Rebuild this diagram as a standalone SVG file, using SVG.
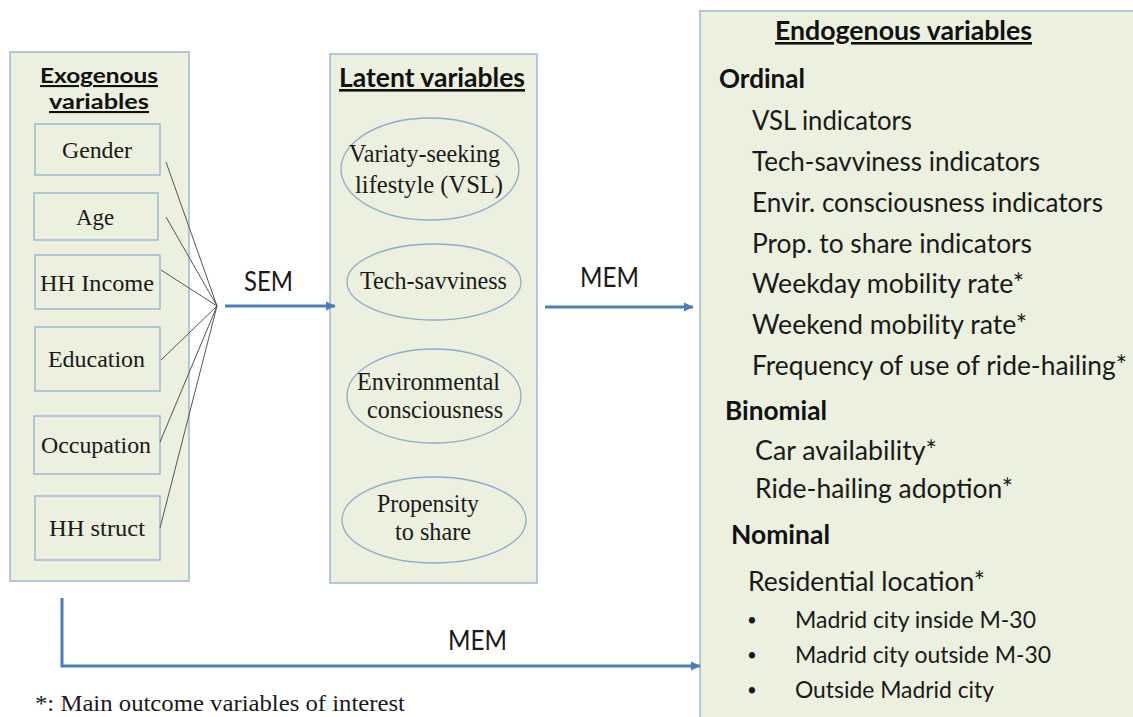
<svg xmlns="http://www.w3.org/2000/svg" width="1133" height="717" viewBox="0 0 1133 717">
<defs>
<style>
.panel{fill:#ebf0df;stroke:#9fb6d6;stroke-width:1.5}
.box{fill:#ebf0df;stroke:#9fb6d6;stroke-width:1.5}
.ell{fill:#ebf0df;stroke:#8faacd;stroke-width:1.3}
.tm{font-family:"Liberation Serif","Times New Roman",serif;font-size:24px;fill:#1a1a1a}
.te{font-family:"Liberation Serif","Times New Roman",serif;font-size:25px;fill:#1a1a1a}
.sn{font-family:Lato,"Open Sans",sans-serif;font-size:26px;fill:#1a1a1a}
.sb{font-family:Lato,"Open Sans",sans-serif;font-size:26px;font-weight:bold;fill:#111}
.sx{font-family:Lato,"Open Sans",sans-serif;font-size:21px;font-weight:bold;fill:#111}
.sm{font-family:Lato,"Open Sans",sans-serif;font-size:24px;fill:#1a1a1a}
.bul{font-family:Lato,"Open Sans",sans-serif;font-size:17px;fill:#1a1a1a}
.ul{text-decoration:underline}
.fan{stroke:#555;stroke-width:1;fill:none}
.arr{stroke:#4a7ebb;stroke-width:3;fill:none}
</style>
<marker id="ah" markerUnits="userSpaceOnUse" markerWidth="10" markerHeight="10" refX="9" refY="5" orient="auto">
<path d="M0,0.5 L9.5,5 L0,9.5 z" fill="#4a7ebb"/>
</marker>
</defs>
<rect width="1133" height="717" fill="#ffffff"/>

<g id="exogenous">
<rect class="panel" x="10" y="52" width="179" height="529"/>
<text class="sx ul" x="40" y="83" textLength="118" lengthAdjust="spacingAndGlyphs">Exogenous</text>
<text class="sx ul" x="49" y="109" textLength="100" lengthAdjust="spacingAndGlyphs">variables</text>
</g>
<g id="gender">
<rect class="box" x="35" y="124" width="125" height="51"/>
<text class="tm" x="62" y="158" textLength="70" lengthAdjust="spacingAndGlyphs">Gender</text>
</g>
<g id="age">
<rect class="box" x="34" y="193" width="124" height="47"/>
<text class="tm" x="76" y="225" textLength="38" lengthAdjust="spacingAndGlyphs">Age</text>
</g>
<g id="hh-income">
<rect class="box" x="35" y="255" width="125" height="54"/>
<text class="tm" x="40" y="291" textLength="114" lengthAdjust="spacingAndGlyphs">HH  Income</text>
</g>
<g id="education">
<rect class="box" x="35" y="327" width="125" height="64"/>
<text class="tm" x="48" y="367" textLength="97" lengthAdjust="spacingAndGlyphs">Education</text>
</g>
<g id="occupation">
<rect class="box" x="34" y="416" width="126" height="58"/>
<text class="tm" x="41" y="453" textLength="110" lengthAdjust="spacingAndGlyphs">Occupation</text>
</g>
<g id="hh-struct">
<rect class="box" x="35" y="496" width="125" height="64"/>
<text class="tm" x="49" y="536" textLength="96" lengthAdjust="spacingAndGlyphs">HH  struct</text>
</g>

<g id="latent">
<rect class="panel" x="330" y="54" width="207" height="529"/>
<text class="sb ul" x="339" y="87" textLength="186" lengthAdjust="spacingAndGlyphs">Latent variables</text>
</g>
<g id="vsl">
<ellipse class="ell" cx="430" cy="169" rx="89" ry="51"/>
<text class="te" x="349" y="162" textLength="151" lengthAdjust="spacingAndGlyphs">Variaty-seeking</text>
<text class="te" x="355" y="193" textLength="148" lengthAdjust="spacingAndGlyphs">lifestyle  (VSL)</text>
</g>
<g id="tech">
<ellipse class="ell" cx="434" cy="282" rx="87" ry="38"/>
<text class="te" x="360" y="289" textLength="147" lengthAdjust="spacingAndGlyphs">Tech-savviness</text>
</g>
<g id="env">
<ellipse class="ell" cx="434" cy="396" rx="87" ry="47"/>
<text class="te" x="357" y="390" textLength="143" lengthAdjust="spacingAndGlyphs">Environmental</text>
<text class="te" x="367" y="418" textLength="136" lengthAdjust="spacingAndGlyphs">consciousness</text>
</g>
<g id="share">
<ellipse class="ell" cx="434" cy="520" rx="92" ry="43"/>
<text class="te" x="377" y="512" textLength="102" lengthAdjust="spacingAndGlyphs">Propensity</text>
<text class="te" x="395" y="540" textLength="76" lengthAdjust="spacingAndGlyphs">to share</text>
</g>

<g id="endogenous">
<rect class="panel" x="700" y="11" width="450" height="720"/>
<text class="sb ul" x="775" y="40" textLength="257" lengthAdjust="spacingAndGlyphs">Endogenous variables</text>
<text class="sb" x="719" y="88" textLength="86" lengthAdjust="spacingAndGlyphs">Ordinal</text>
<text class="sn" x="752" y="130" textLength="160" lengthAdjust="spacingAndGlyphs">VSL indicators</text>
<text class="sn" x="752" y="171" textLength="288" lengthAdjust="spacingAndGlyphs">Tech-savviness  indicators</text>
<text class="sn" x="752" y="212" textLength="351" lengthAdjust="spacingAndGlyphs">Envir. consciousness  indicators</text>
<text class="sn" x="752" y="253" textLength="280" lengthAdjust="spacingAndGlyphs">Prop. to share indicators</text>
<text class="sn" x="752" y="293" textLength="272" lengthAdjust="spacingAndGlyphs">Weekday  mobility rate*</text>
<text class="sn" x="752" y="334" textLength="275" lengthAdjust="spacingAndGlyphs">Weekend  mobility rate*</text>
<text class="sn" x="752" y="375" textLength="375" lengthAdjust="spacingAndGlyphs">Frequency of use of ride-hailing*</text>
<text class="sb" x="725" y="420" textLength="102" lengthAdjust="spacingAndGlyphs">Binomial</text>
<text class="sn" x="755" y="460" textLength="182" lengthAdjust="spacingAndGlyphs">Car availability*</text>
<text class="sn" x="755" y="498" textLength="258" lengthAdjust="spacingAndGlyphs">Ride-hailing adoption*</text>
<text class="sb" x="731" y="544" textLength="99" lengthAdjust="spacingAndGlyphs">Nominal</text>
<text class="sn" x="748" y="591" textLength="237" lengthAdjust="spacingAndGlyphs">Residential location*</text>
<text class="bul" x="747" y="626">•</text>
<text class="sm" x="795" y="628" textLength="241" lengthAdjust="spacingAndGlyphs">Madrid city inside M-30</text>
<text class="bul" x="747" y="661">•</text>
<text class="sm" x="795" y="663" textLength="256" lengthAdjust="spacingAndGlyphs">Madrid city outside M-30</text>
<text class="bul" x="747" y="696">•</text>
<text class="sm" x="795" y="698" textLength="199" lengthAdjust="spacingAndGlyphs">Outside Madrid city</text>
</g>

<g id="connectors">
<line class="fan" x1="166" y1="162" x2="217" y2="306"/>
<line class="fan" x1="166" y1="217" x2="217" y2="306"/>
<line class="fan" x1="161" y1="270" x2="217" y2="306"/>
<line class="fan" x1="161" y1="360" x2="217" y2="306"/>
<line class="fan" x1="160" y1="442" x2="217" y2="306"/>
<line class="fan" x1="160" y1="528" x2="217" y2="306"/>
<line class="arr" x1="225" y1="306" x2="335" y2="306" marker-end="url(#ah)"/>
<line class="arr" x1="545" y1="307" x2="693" y2="307" marker-end="url(#ah)"/>
<path class="arr" d="M62,598 V666 H700" marker-end="url(#ah)"/>
<text class="sn" x="244" y="291" textLength="49" lengthAdjust="spacingAndGlyphs">SEM</text>
<text class="sn" x="580" y="287" textLength="59" lengthAdjust="spacingAndGlyphs">MEM</text>
<text class="sn" x="448" y="650" textLength="59" lengthAdjust="spacingAndGlyphs">MEM</text>
</g>

<text class="tm" x="35" y="711" textLength="370" lengthAdjust="spacingAndGlyphs">*: Main outcome variables of interest</text>
</svg>
